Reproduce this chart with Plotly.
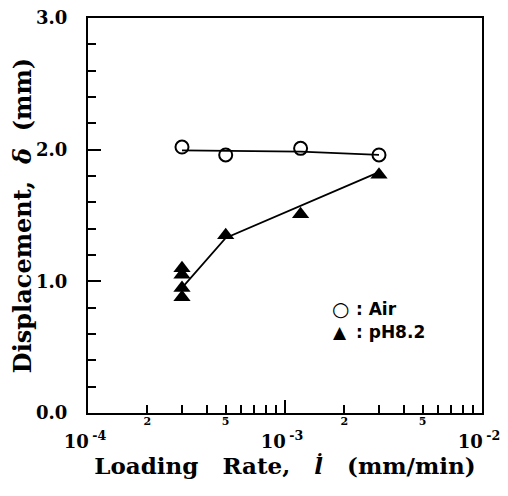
import plotly.graph_objects as go

# ---- data ----
air_x = [3e-4, 5e-4, 1.2e-3, 3e-3]
air_y = [2.02, 1.96, 2.01, 1.96]
air_fit_x = [3e-4, 1.2e-3, 3e-3]
air_fit_y = [1.995, 1.985, 1.96]

ph_x = [3e-4, 3e-4, 3e-4, 3e-4, 5e-4, 1.2e-3, 3e-3]
ph_y = [1.10, 1.05, 0.95, 0.88, 1.35, 1.51, 1.81]
ph_fit_x = [3e-4, 5e-4, 3e-3]
ph_fit_y = [0.95, 1.33, 1.83]

x_tickvals = [1e-4, 1e-3, 1e-2]
x_ticktext = ["<b>10\u2009<sup>-4</sup></b>", "<b>10\u2009<sup>-3</sup></b>", "<b>10\u2009<sup>-2</sup></b>"]
x_subvals = [2e-4, 5e-4, 2e-3, 5e-3]
x_subtext = ["<b>2</b>", "<b>5</b>", "<b>2</b>", "<b>5</b>"]
x_minorvals = [2e-4, 3e-4, 4e-4, 5e-4, 6e-4, 7e-4, 8e-4, 9e-4,
               2e-3, 3e-3, 4e-3, 5e-3, 6e-3, 7e-3, 8e-3, 9e-3]
y_tickvals = [0, 1, 2, 3]
y_ticktext = ["<b>0.0</b>", "<b>1.0</b>", "<b>2.0</b>", "<b>3.0</b>"]

SERIF = "DejaVu Serif"
NB = "\u00a0"

fig = go.Figure()
fig.add_trace(go.Scatter(x=air_fit_x, y=air_fit_y, mode="lines",
                         line=dict(color="black", width=1.8), showlegend=False))
fig.add_trace(go.Scatter(x=ph_fit_x, y=ph_fit_y, mode="lines",
                         line=dict(color="black", width=1.8), showlegend=False))
fig.add_trace(go.Scatter(x=air_x, y=air_y, mode="markers", name="Air",
                         marker=dict(symbol="circle-open", size=13, color="black",
                                     line=dict(width=2, color="black")),
                         showlegend=False))
fig.add_trace(go.Scatter(x=ph_x, y=ph_y, mode="markers", name="pH8.2",
                         marker=dict(symbol="triangle-up", size=15, color="black"),
                         showlegend=False))
# carrier for the secondary (sub-decade label) axis
fig.add_trace(go.Scatter(x=[x_subvals[0]], y=[None], xaxis="x2", yaxis="y",
                         mode="markers", showlegend=False, hoverinfo="skip"))

xtitle = ("<b>Loading" + NB * 3 + "Rate," + NB * 3 + "<i>l\u0307</i>" + NB * 3 + "(mm/min)</b>")
ytitle = ("<b>Displacement," + NB * 2 + "<i>δ</i>" + NB * 2 + "(mm)</b>")

# the page has an 8px body margin, so the figure is 500x488 placed at (8, 8)
fig.update_layout(
    width=500, height=488,
    margin=dict(l=80, r=26, t=10, b=83),
    paper_bgcolor="white", plot_bgcolor="white",
    font=dict(family=SERIF, color="black"),
    xaxis=dict(type="log", range=[-4, -2], tickmode="array",
               tickvals=x_tickvals, ticktext=x_ticktext,
               ticks="inside", ticklen=13, tickwidth=2, tickcolor="black",
               minor=dict(tickmode="array", tickvals=x_minorvals, ticks="inside",
                          ticklen=8, tickwidth=1.5, tickcolor="black", showgrid=False),
               showline=True, linecolor="black", linewidth=2, mirror=True,
               showgrid=False, zeroline=False, automargin=False,
               ticklabeloverflow="allow",
               tickfont=dict(family=SERIF, size=18, color="black"),
               ticklabelstandoff=11, ticklabelshift=-3,
               title=dict(text=xtitle,
                          font=dict(family=SERIF, size=23, color="black"),
                          standoff=2)),
    xaxis2=dict(type="log", range=[-4, -2], overlaying="x", anchor="y", side="bottom",
                tickmode="array", tickvals=x_subvals, ticktext=x_subtext,
                ticks="", showline=False, showgrid=False, zeroline=False, automargin=False,
                tickfont=dict(family=SERIF, size=11, color="black"),
                ticklabelstandoff=0),
    yaxis=dict(range=[0, 3], tickmode="array", tickvals=y_tickvals, ticktext=y_ticktext,
               ticks="inside", ticklen=13, tickwidth=2, tickcolor="black",
               minor=dict(dtick=0.2, ticks="inside", ticklen=8, tickwidth=1.5,
                          tickcolor="black", showgrid=False),
               showline=True, linecolor="black", linewidth=2, mirror=True,
               showgrid=False, zeroline=False, automargin=False,
               ticklabeloverflow="allow",
               tickfont=dict(family=SERIF, size=18, color="black"),
               ticklabelstandoff=15,
               title=dict(text=ytitle,
                          font=dict(family=SERIF, size=24, color="black"),
                          standoff=6)),
)

# legend as annotations
leg_font = dict(family="DejaVu Sans", size=17, color="black")
fig.add_annotation(xref="paper", yref="paper", x=0.64, y=0.263, text="○",
                   showarrow=False, font=dict(family="DejaVu Sans", size=20, color="black"),
                   xanchor="center", yanchor="middle")
fig.add_annotation(xref="paper", yref="paper", x=0.64, y=0.204, text="▲",
                   showarrow=False, font=dict(family="DejaVu Sans", size=17, color="black"),
                   xanchor="center", yanchor="middle")
fig.add_annotation(xref="paper", yref="paper", x=0.675, y=0.263, text="<b>:" + NB + "Air</b>",
                   showarrow=False, font=leg_font, xanchor="left", yanchor="middle")
fig.add_annotation(xref="paper", yref="paper", x=0.675, y=0.204, text="<b>:" + NB + "pH8.2</b>",
                   showarrow=False, font=leg_font, xanchor="left", yanchor="middle")

fig.write_html("out.html")
